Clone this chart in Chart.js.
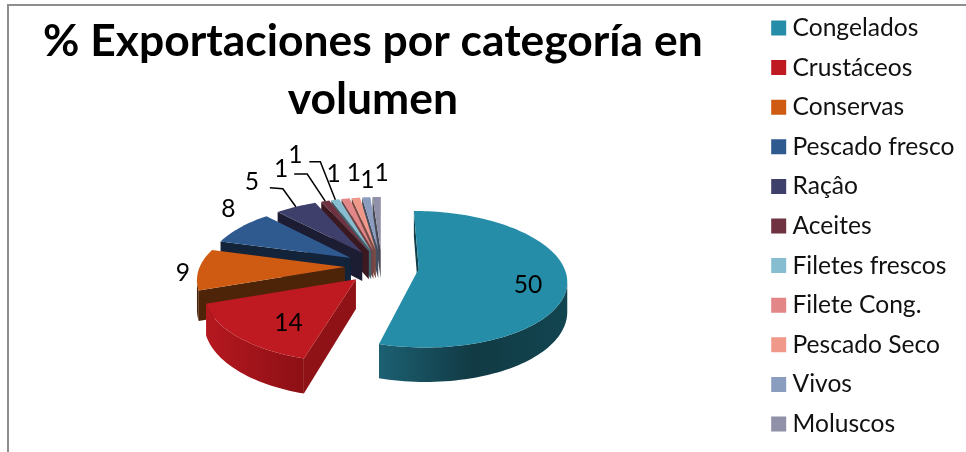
<!DOCTYPE html>
<html>
<head>
<meta charset="utf-8">
<script src="https://cdn.jsdelivr.net/npm/chart.js@4"></script>
<style>
	html, body { margin: 0; background: #fff; overflow: hidden; }
	#frame { position: absolute; left: 7px; top: 4px; width: 970px; height: 460px; border-left: 2px solid #8e8e8e; border-top: 2px solid #8e8e8e; }
	canvas { position: absolute; left: 0; top: 0; }
</style>
</head>
<body>
<div id="frame"></div>
<canvas id="pie-chart" width="966" height="452"></canvas>
<script>
const categories = ['Congelados', 'Crustáceos', 'Conservas', 'Pescado fresco', 'Raçâo', 'Aceites', 'Filetes frescos', 'Filete Cong.', 'Pescado Seco', 'Vivos', 'Moluscos'];
const shares = [50, 14, 9, 8, 5, 1, 1, 1, 1, 1, 1];

const topColors = ['#258da8', '#bf1a22', '#cf5a12', '#2f5a8f', '#3f3f6b', '#6f3240', '#86bdd0', '#e28688', '#f0998a', '#8a9dbf', '#9090a8'];
const cutColors = ['#12404a', '#8f1216', '#4d2408', '#12233a', '#1c1c32', '#3a1a20', '#3f6470', '#704345', '#784c44', '#454e60', '#484854'];
const wallColors = [
	['#1c6072', '#113a44', '#124550'], ['#b5181f', '#8c1015'], ['#4d2408', '#4d2408'], ['#12233a', '#12233a'],
	['#1c1c32', '#1c1c32'], ['#3a1a20', '#3a1a20'], ['#3f6470', '#3f6470'], ['#704345', '#704345'],
	['#784c44', '#784c44'], ['#454e60', '#454e60'], ['#484854', '#484854']
];

// label placement relative to the outer middle of each slice
const labelNudge = [[-39, 7], [51, -14], [-16, 4], [-12, -18], [-44, -25], [-44, -32], [-40, -45], [-12, -25], [-2, -25], [1, -17], [5, -24]];
const leaderElbow = { 4: [[-13, -18], [-26, -19]], 5: [[-18, -27], [-31, -27]], 6: [[-15, -38], [-26, -38]] };

// tilt and perspective of the pie plane
const TILT = 0.455;
const PERSPECTIVE = 0.00105;
const DEPTH = 29;
const SHIFT_X = 0;
const SHIFT_Y = -26;

const project = (el, r, angle, drop) => {
	const mid = (el.startAngle + el.endAngle) / 2;
	const u = Math.cos(mid) * el.options.offset + Math.cos(angle) * r;
	const v = Math.sin(mid) * el.options.offset + Math.sin(angle) * r;
	const s = 1 / (1 - PERSPECTIVE * v);
	return [el.x + SHIFT_X + u * s, el.y + SHIFT_Y + (TILT * v + drop) * s];
};

const fillPoly = (ctx, points, fill) => {
	ctx.beginPath();
	points.forEach((p, i) => i ? ctx.lineTo(p[0], p[1]) : ctx.moveTo(p[0], p[1]));
	ctx.closePath();
	ctx.fillStyle = fill;
	ctx.fill();
};

const signedArea = (points) => {
	let sum = 0;
	points.forEach((p, i) => {
		const q = points[(i + 1) % points.length];
		sum += p[0] * q[1] - q[0] * p[1];
	});
	return sum / 2;
};

const drawSlice = (ctx, el, index) => {
	const R = el.outerRadius;
	const steps = Math.max(2, Math.ceil((el.endAngle - el.startAngle) / 0.03));
	const angles = [];
	for (let i = 0; i <= steps; i++) angles.push(el.startAngle + (el.endAngle - el.startAngle) * i / steps);

	const tip = project(el, 0, 0, 0);
	const tipLow = project(el, 0, 0, DEPTH);
	const rim = angles.map(a => project(el, R, a, 0));
	const rimLow = angles.map(a => project(el, R, a, DEPTH));

	// the two cut faces, only when they look at the viewer
	const startFace = [tip, rim[0], rimLow[0], tipLow];
	const endFace = [tip, tipLow, rimLow[steps], rim[steps]];
	[startFace, endFace].forEach(face => {
		if (signedArea(face) < 0) fillPoly(ctx, face, cutColors[index]);
	});

	// outer wall, shaded from left to right, one polygon for the visible run
	const xs = rim.map(p => p[0]);
	const gradient = ctx.createLinearGradient(Math.min(...xs), 0, Math.max(...xs), 0);
	wallColors[index].forEach((c, i, all) => gradient.addColorStop(i / (all.length - 1), c));
	const upper = [];
	const lower = [];
	for (let i = 0; i < steps; i++) {
		if (signedArea([rim[i], rim[i + 1], rimLow[i + 1], rimLow[i]]) < 0) {
			if (!upper.length) { upper.push(rim[i]); lower.push(rimLow[i]); }
			upper.push(rim[i + 1]);
			lower.push(rimLow[i + 1]);
		}
	}
	if (upper.length) fillPoly(ctx, [...upper, ...lower.reverse()], gradient);

	fillPoly(ctx, [tip, ...rim], topColors[index]);
};

const pie3d = {
	id: 'pie3d',
	afterLayout(chart) {
		// the title sits a little left of the plot, the legend a little left too
		chart.titleBlock.left -= 18;
		chart.legend.left -= 1.6;
		chart.legend.right -= 1.6;
	},
	beforeDatasetDraw(chart, args) {
		const ctx = chart.ctx;
		const arcs = args.meta.data;
		const order = arcs.map((el, i) => i);
		order.sort((a, b) => Math.sin((arcs[a].startAngle + arcs[a].endAngle) / 2) - Math.sin((arcs[b].startAngle + arcs[b].endAngle) / 2));
		order.forEach(i => drawSlice(ctx, arcs[i], i));
		return false;
	},
	afterDatasetsDraw(chart) {
		const ctx = chart.ctx;
		chart.getDatasetMeta(0).data.forEach((el, i) => {
			const anchor = project(el, el.outerRadius, (el.startAngle + el.endAngle) / 2, 0);
			if (leaderElbow[i]) {
				ctx.beginPath();
				ctx.moveTo(anchor[0], anchor[1]);
				leaderElbow[i].forEach(d => ctx.lineTo(anchor[0] + d[0], anchor[1] + d[1]));
				ctx.strokeStyle = '#000';
				ctx.lineWidth = 1.5;
				ctx.stroke();
			}
			ctx.font = '24.6px Lato';
			ctx.fillStyle = '#000';
			ctx.textAlign = 'center';
			ctx.textBaseline = 'middle';
			ctx.fillText(shares[i], anchor[0] + labelNudge[i][0], anchor[1] + labelNudge[i][1]);
		});
	}
};

const pieChart = new Chart(document.getElementById('pie-chart').getContext('2d'), {
	type: 'pie',
	data: {
		labels: categories,
		datasets: [{
			data: shares,
			backgroundColor: topColors,
			borderWidth: 0,
			offset: 37
		}]
	},
	options: {
		responsive: false,
		animation: false,
		radius: 145,
		plugins: {
			tooltip: { enabled: false },
			title: {
				display: true,
				text: ['% Exportaciones por categoría en', 'volumen'],
				fullSize: false,
				color: '#000',
				font: { family: 'Lato', size: 44.4, weight: 'bold', lineHeight: 1.306 },
				padding: { top: 13, bottom: 4 }
			},
			legend: {
				position: 'right',
				labels: {
					usePointStyle: true,
					pointStyle: 'rect',
					boxWidth: 3,
					boxHeight: 15,
					padding: 15,
					color: '#111',
					font: { family: 'Lato', size: 24.6 }
				}
			}
		}
	},
	plugins: [pie3d]
});
</script>
</body>
</html>
